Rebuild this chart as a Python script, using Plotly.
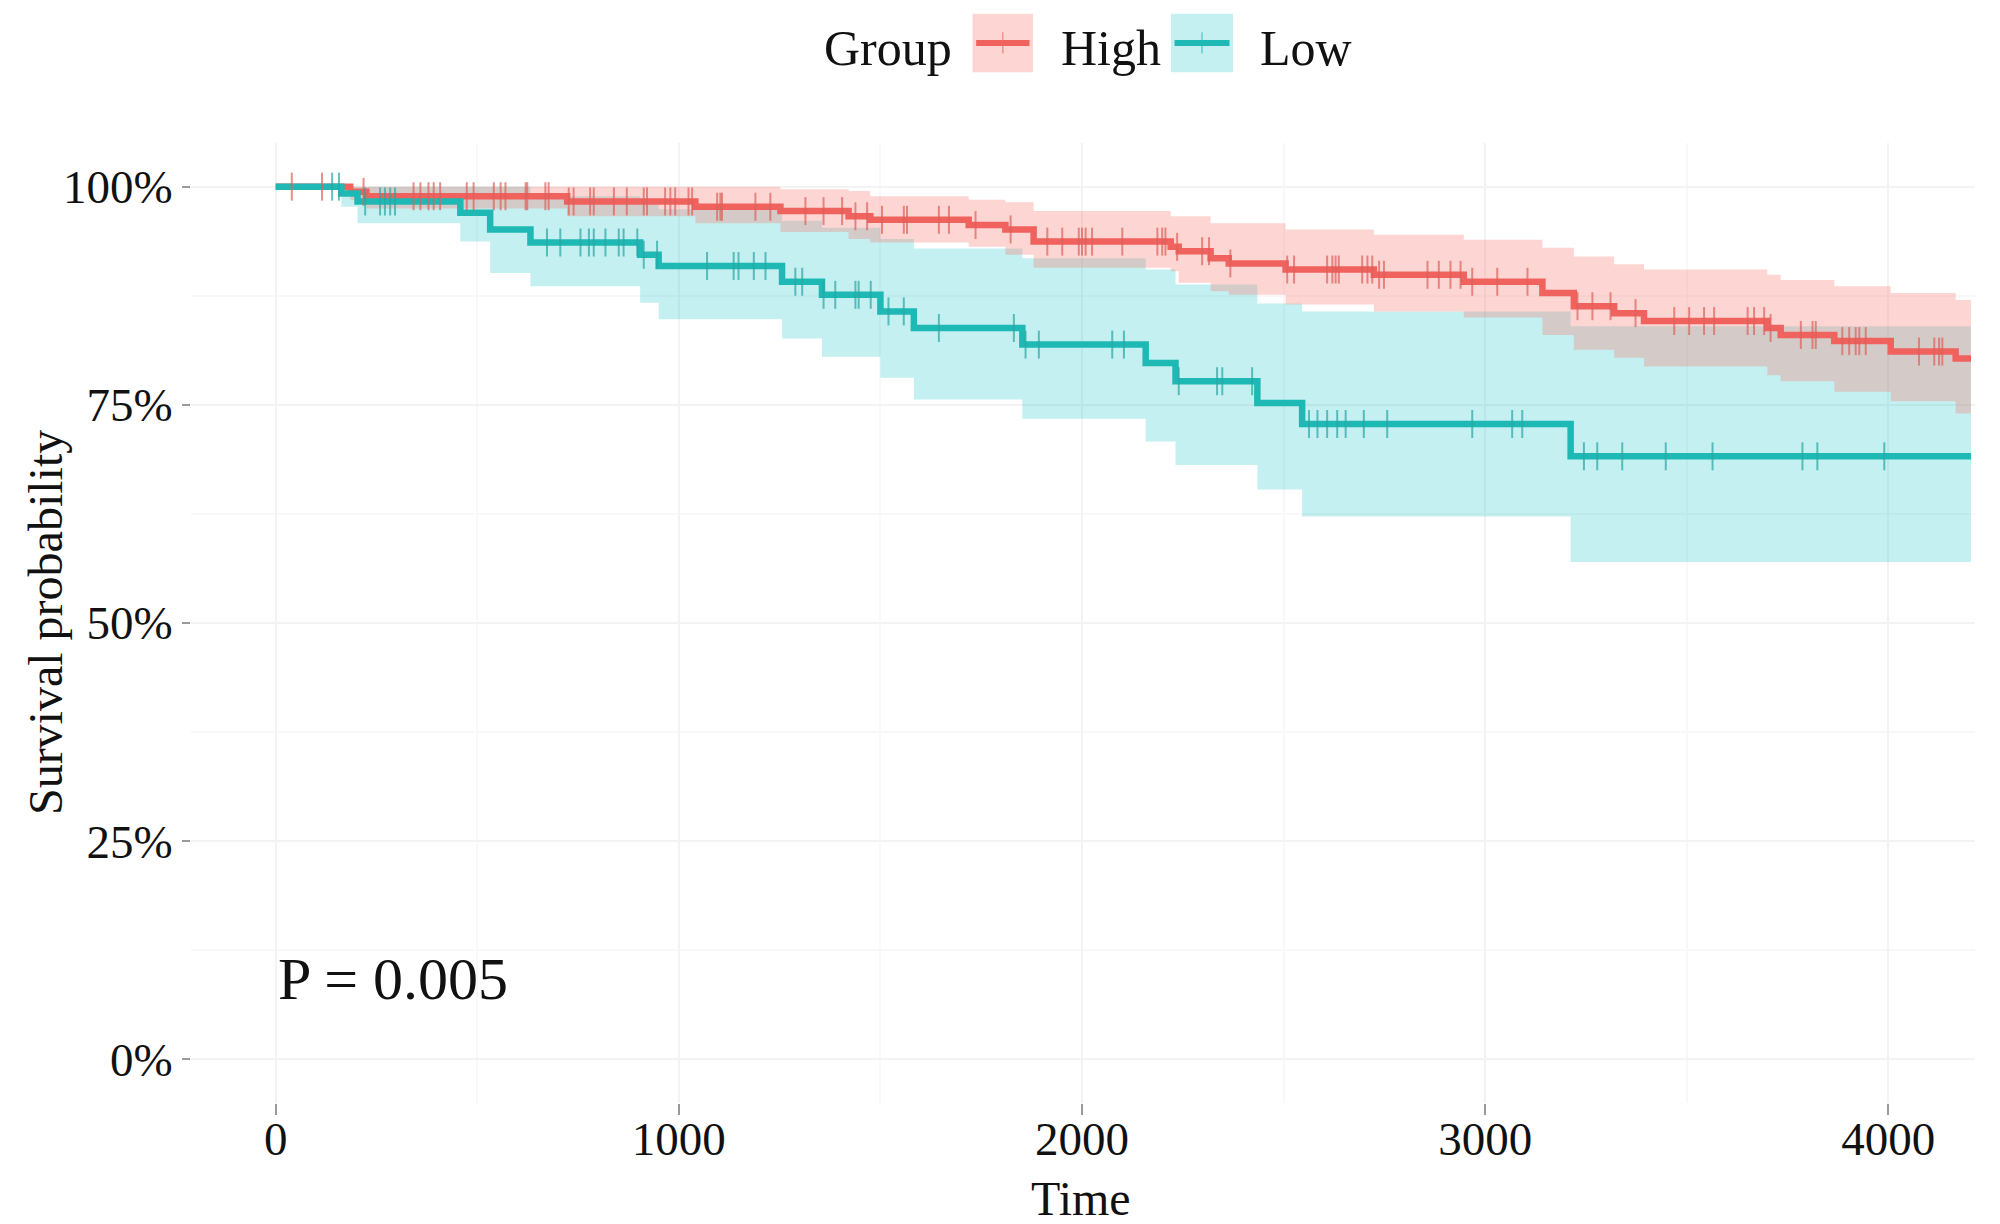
import plotly.graph_objects as go

# ---------------- data ----------------
END_TIME = 4205

high_time = [0, 185, 225, 723, 1041, 1252, 1421, 1475, 1719, 1810, 1880, 2220, 2240, 2319, 2364,
             2505, 2724, 2947, 3142, 3220, 3320, 3394, 3700, 3733, 3866, 4006, 4167]
high_surv = [1.0, 0.994, 0.989, 0.983, 0.977, 0.972, 0.966, 0.962, 0.956, 0.951, 0.937, 0.931, 0.926,
             0.918, 0.912, 0.905, 0.899, 0.891, 0.878, 0.863, 0.855, 0.846, 0.838, 0.830, 0.823, 0.811, 0.803]
high_upper = [1.0, 1.0, 1.0, 1.0, 1.0, 0.997, 0.995, 0.989, 0.985, 0.982, 0.972, 0.966, 0.966,
              0.958, 0.958, 0.951, 0.945, 0.939, 0.930, 0.920, 0.911, 0.905, 0.899, 0.893, 0.886, 0.878, 0.870]
high_lower = [1.0, 0.985, 0.975, 0.966, 0.958, 0.948, 0.940, 0.936, 0.931, 0.922, 0.907, 0.903, 0.890,
              0.880, 0.876, 0.865, 0.857, 0.850, 0.830, 0.813, 0.804, 0.794, 0.784, 0.777, 0.765, 0.754, 0.740]
high_censor = [40, 115, 218, 342, 359, 379, 392, 408, 474, 491, 541, 558, 570, 620, 624, 669, 677, 727,
               739, 780, 789, 839, 871, 913, 921, 966, 979, 991, 1024, 1033, 1095, 1103, 1107, 1190, 1227,
               1314, 1359, 1405, 1438, 1467, 1504, 1558, 1566, 1645, 1670, 1736, 1823, 1914, 1951, 1992,
               2000, 2009, 2025, 2100, 2187, 2199, 2207, 2236, 2298, 2315, 2368, 2509, 2526, 2608, 2621,
               2629, 2637, 2695, 2708, 2720, 2737, 2749, 2857, 2885, 2914, 2939, 2968, 3030, 3105, 3229,
               3266, 3311, 3373, 3469, 3506, 3543, 3568, 3651, 3667, 3692, 3708, 3783, 3812, 3820, 3886,
               3903, 3919, 3928, 3944, 4076, 4114, 4126, 4134]

low_time = [0, 163, 203, 458, 532, 632, 904, 950, 1256, 1355, 1500, 1583, 1852, 2158, 2232, 2435, 2546, 3212]
low_surv = [1.0, 0.992, 0.983, 0.970, 0.951, 0.936, 0.922, 0.909, 0.891, 0.876, 0.857, 0.838, 0.819,
            0.798, 0.777, 0.752, 0.728, 0.691]
low_upper = [1.0, 1.0, 1.0, 1.0, 1.0, 0.989, 0.980, 0.974, 0.961, 0.953, 0.940, 0.929, 0.918,
             0.905, 0.888, 0.866, 0.857, 0.840]
low_lower = [1.0, 0.977, 0.958, 0.937, 0.901, 0.886, 0.867, 0.848, 0.826, 0.805, 0.781, 0.756, 0.734,
             0.708, 0.681, 0.653, 0.622, 0.570]
low_censor = [140, 157, 222, 259, 271, 284, 296, 673, 706, 756, 777, 789, 818, 851, 863, 897, 913, 946,
              1070, 1136, 1148, 1186, 1215, 1289, 1306, 1359, 1388, 1438, 1446, 1476, 1520, 1558, 1645,
              1831, 1860, 1893, 2075, 2104, 2240, 2335, 2348, 2422, 2563, 2584, 2608, 2633, 2654, 2699,
              2757, 2968, 3067, 3092, 3245, 3278, 3340, 3448, 3564, 3787, 3824, 3990]

x_ticks = [0, 1000, 2000, 3000, 4000]
y_ticks = [0, 0.25, 0.5, 0.75, 1.0]
y_tick_labels = ["0%", "25%", "50%", "75%", "100%"]
groups = ["High", "Low"]
p_text = "P = 0.005"

# ---------------- styling ----------------
FONT = "Liberation Serif"
RED = "#F0625E"
TEAL = "#1EB9B5"
RED_FILL = "rgba(248,118,109,0.30)"
TEAL_FILL = "rgba(0,191,196,0.23)"
RED_TICK = "rgba(220,95,90,0.7)"
TEAL_TICK = "rgba(40,165,162,0.7)"


def step(times, vals, end):
    return list(times) + [end], list(vals) + [vals[-1]]


def value_at(times, vals, t):
    v = vals[0]
    for ti, vi in zip(times, vals):
        if ti <= t:
            v = vi
        else:
            break
    return v


fig = go.Figure()


def add_band(times, upper, lower, fill):
    xu, yu = step(times, upper, END_TIME)
    xl, yl = step(times, lower, END_TIME)
    fig.add_trace(go.Scatter(x=xu, y=yu, mode="lines", line=dict(width=0, shape="hv"),
                             showlegend=False, hoverinfo="skip"))
    fig.add_trace(go.Scatter(x=xl, y=yl, mode="lines", line=dict(width=0, shape="hv"),
                             fill="tonexty", fillcolor=fill, showlegend=False, hoverinfo="skip"))


add_band(low_time, low_upper, low_lower, TEAL_FILL)
add_band(high_time, high_upper, high_lower, RED_FILL)

for times, surv, color, name in [(high_time, high_surv, RED, groups[0]),
                                 (low_time, low_surv, TEAL, groups[1])]:
    xs, ys = step(times, surv, END_TIME)
    fig.add_trace(go.Scatter(x=xs, y=ys, mode="lines", name=name,
                             line=dict(color=color, width=6.5, shape="hv"), showlegend=False))

for times, surv, cens, color in [(high_time, high_surv, high_censor, RED_TICK),
                                 (low_time, low_surv, low_censor, TEAL_TICK)]:
    fig.add_trace(go.Scatter(x=cens, y=[value_at(times, surv, c) for c in cens], mode="markers",
                             marker=dict(symbol="line-ns", size=20, line=dict(width=2, color=color)),
                             showlegend=False, hoverinfo="skip"))

# ---------------- legend drawn by hand ----------------
shapes = []
annotations = []
key_y0, key_y1 = 1.0738, 1.1347
key_mid = (key_y0 + key_y1) / 2
for (x0, x1, fill, col) in [(0.4381, 0.4720, RED_FILL, RED), (0.5493, 0.5841, TEAL_FILL, TEAL)]:
    shapes.append(dict(type="rect", xref="paper", yref="paper", x0=x0, x1=x1, y0=key_y0, y1=key_y1,
                       fillcolor=fill, line=dict(width=0), layer="above"))
    shapes.append(dict(type="line", xref="paper", yref="paper", x0=x0 + 0.002, x1=x1 - 0.002,
                       y0=key_mid, y1=key_mid, line=dict(color=col, width=6), layer="above"))
    xm = (x0 + x1) / 2
    shapes.append(dict(type="line", xref="paper", yref="paper", x0=xm, x1=xm,
                       y0=key_mid - 0.011, y1=key_mid + 0.011,
                       line=dict(color=col, width=1.5), opacity=0.6, layer="above"))

leg_font = dict(family=FONT, size=50, color="#111111")
for txt, x in [("Group", 0.3537), (groups[0], 0.4864), (groups[1], 0.5981)]:
    annotations.append(dict(text=txt, xref="paper", yref="paper", x=x, y=1.099, xanchor="left",
                            yanchor="middle", showarrow=False, font=leg_font))

annotations.append(dict(text="Time", xref="paper", yref="paper", x=0.4989, y=-0.0994,
                        xanchor="center", yanchor="middle", showarrow=False,
                        font=dict(family=FONT, size=48, color="#111111")))
annotations.append(dict(text="Survival probability", xref="paper", yref="paper", x=-0.0818, y=0.5,
                        xanchor="center", yanchor="middle", textangle=-90, showarrow=False,
                        font=dict(family=FONT, size=48, color="#111111")))
annotations.append(dict(text=p_text, xref="x", yref="y", x=0, y=0.092, xanchor="left",
                        yanchor="middle", showarrow=False,
                        font=dict(family=FONT, size=60, color="#111111")))

# page body has an 8px margin: figure is 1992x1216 placed at (8, 8)
fig.update_layout(
    width=1992, height=1216, autosize=False,
    margin=dict(l=183, r=25, t=135, b=121),
    paper_bgcolor="white", plot_bgcolor="white",
    shapes=shapes, annotations=annotations,
    font=dict(family=FONT, color="#111111"),
)
fig.update_xaxes(
    range=[-210, 4215], tickvals=x_ticks, ticks="outside", ticklen=11, tickwidth=2,
    tickcolor="#9a9a9a", showline=False, zeroline=False, showgrid=True,
    gridcolor="#F3F3F3", gridwidth=1.5, ticklabelstandoff=-16,
    minor=dict(tickvals=[500, 1500, 2500, 3500], showgrid=True, gridcolor="#F8F8F8", gridwidth=1.5),
    tickfont=dict(family=FONT, size=47, color="#111111"),
)
fig.update_yaxes(
    range=[-0.05, 1.05], tickvals=y_ticks, ticktext=y_tick_labels, ticks="outside", ticklen=8,
    tickwidth=2, tickcolor="#9a9a9a", showline=False, zeroline=False, showgrid=True,
    gridcolor="#F3F3F3", gridwidth=1.5,
    minor=dict(tickvals=[0.125, 0.375, 0.625, 0.875], showgrid=True, gridcolor="#F8F8F8", gridwidth=1.5),
    tickfont=dict(family=FONT, size=47, color="#111111"),
)

fig.write_html("out.html")
